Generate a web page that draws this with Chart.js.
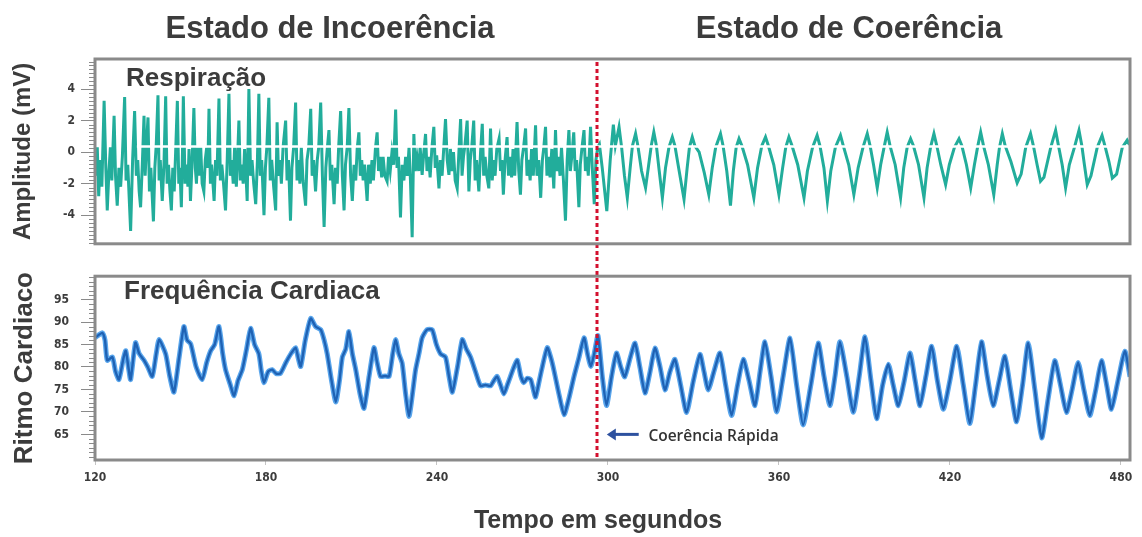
<!DOCTYPE html>
<html lang="pt">
<head>
<meta charset="utf-8">
<title>Respiração e Frequência Cardíaca</title>
<script src="https://cdn.jsdelivr.net/npm/chart.js@4.4.1/dist/chart.umd.min.js"></script>
<style>
  html, body { margin: 0; padding: 0; background: #ffffff; }
  #page { position: relative; width: 1142px; height: 537px; overflow: hidden; background: #ffffff; }
  canvas { position: absolute; left: 0; }
  .lbl { position: absolute; font-family: "Liberation Sans", Arial, sans-serif; font-weight: bold;
         color: #3c3c3c; line-height: 1; white-space: nowrap; }
  .center { transform: translate(-50%, -50%); }
  .left { transform: translate(0, -50%); }
</style>
</head>
<body>
<div id="page">
  <canvas id="respCanvas" width="1142" height="257" style="top:0;width:1142px;height:257px"></canvas>
  <canvas id="hrCanvas" width="1142" height="280" style="top:257px;width:1142px;height:280px"></canvas>

  <div class="lbl center" style="left:330px;top:27px;font-size:31px">Estado de Incoerência</div>
  <div class="lbl center" style="left:849px;top:27px;font-size:31px">Estado de Coerência</div>
  <div class="lbl left" style="left:126px;top:77px;font-size:26px">Respiração</div>
  <div class="lbl left" style="left:124px;top:290px;font-size:26px">Frequência Cardiaca</div>
  <div class="lbl center" style="left:598px;top:519px;font-size:25px">Tempo em segundos</div>
</div>

<script>
// ---- time axis (seconds) ----
const timeRange = [120, 483.2];
const timeTicks = [120, 180, 240, 300, 360, 420, 480];
const coherenceOnset = 296;          // start of the coherent breathing phase

// ---- respiration amplitude (mV) ----
const respRange = [-5.82, 5.91];
const respLabelTicks = [-4, -2, 0, 2, 4];
const respBaseline = { from: 134.7, to: 483.2, level: 0.35 };

// [time s, amplitude mV]
const respiration = [
  [120.3,-1.5],[120.8,0.3],[121.3,-2.8],[121.8,-0.5],[122.4,-2.2],[123.2,3.25],[123.8,-1.0],[124.3,-3.7],
  [124.9,-1.2],[125.4,0.3],[125.9,-1.8],[126.7,2.3],[127.2,-1.5],[127.8,-3.4],[128.4,-1.0],[129.0,-2.2],
  [129.6,-0.3],[130.4,3.5],[130.9,-1.8],[131.5,-0.8],[132.5,-5.0],[133.2,-0.5],[133.9,2.6],[134.5,-1.5],
  [135.0,-0.5],[135.5,-2.5],[136.0,-3.5],[136.6,-0.8],[137.2,2.3],[137.6,-1.5],[138.0,0.2],[138.6,2.2],
  [139.1,-2.5],[139.6,-1.0],[140.5,-4.4],[141.0,-1.0],[141.5,0.5],[142.1,3.6],[142.5,-1.8],[142.9,-0.5],
  [143.6,-3.1],[144.2,-0.8],[144.8,3.55],[145.3,-2.0],[145.8,-0.8],[146.3,-2.5],[146.8,-3.7],[147.3,-1.0],
  [147.8,-2.5],[148.3,0.0],[148.9,3.25],[149.4,-2.0],[149.8,-1.0],[150.3,-3.5],[150.7,0.0],[151.0,3.55],
  [151.6,-2.0],[152.1,-0.8],[152.6,-2.2],[153.0,0.2],[153.5,-3.1],[154.1,-0.5],[154.7,2.8],[155.2,-1.0],
  [155.6,-2.0],[156.1,0.3],[156.6,-1.5],[157.1,0.3],[157.6,-2.0],[158.2,-2.5],[158.7,-0.5],[159.2,0.3],
  [159.6,-1.0],[160.0,2.75],[160.5,-2.0],[160.9,-0.8],[161.4,-2.0],[161.8,-3.1],[162.3,-0.5],[162.8,-1.5],
  [163.5,3.4],[164.0,-1.8],[164.5,-0.8],[165.1,-2.0],[165.8,-3.7],[166.4,-0.5],[167.0,3.7],[167.5,-1.5],
  [168.0,-0.5],[168.5,-2.0],[169.0,0.3],[169.6,-2.2],[170.0,-0.5],[170.5,2.0],[171.0,-1.8],[171.5,-0.8],
  [172.0,-2.0],[172.5,0.2],[173.0,-1.5],[173.4,-3.1],[174.0,4.0],[174.6,-1.5],[175.1,-0.5],[175.7,-2.0],
  [176.4,-3.3],[177.0,-0.5],[177.5,3.7],[178.0,-1.5],[178.5,-0.5],[179.3,-4.0],[179.8,-1.0],[180.3,0.3],
  [181.0,3.45],[181.5,-1.8],[182.0,-0.5],[182.7,-2.2],[183.4,-3.7],[183.9,1.9],[184.4,-1.5],[184.9,-0.5],
  [185.4,-2.0],[186.0,0.3],[186.9,2.0],[187.4,-1.8],[187.9,-0.5],[188.6,-4.35],[189.1,-1.0],[189.7,0.3],
  [190.4,3.15],[190.9,-1.8],[191.4,-0.5],[191.9,-2.0],[192.4,0.3],[193.0,-1.8],[193.9,-3.4],[194.4,-0.5],
  [195.0,0.3],[195.7,2.75],[196.2,-1.5],[196.7,-0.5],[197.4,-2.5],[198.0,-0.5],[198.5,0.3],[199.2,3.15],
  [199.8,-1.5],[200.4,-4.75],[201.0,-1.0],[201.5,0.2],[202.1,1.4],[202.6,-1.8],[203.1,-0.8],[203.9,-3.3],
  [204.4,-1.0],[205.0,-2.0],[205.5,0.3],[206.2,2.6],[206.8,-1.5],[207.4,-3.7],[207.9,-0.8],[208.5,0.3],
  [209.1,2.8],[209.7,-1.5],[210.3,-3.1],[210.9,-0.8],[211.5,-1.8],[212.0,0.2],[212.6,1.25],[213.1,-1.5],
  [213.6,-0.5],[214.1,-1.8],[214.6,-0.8],[215.5,-3.1],[216.0,-0.8],[216.6,-2.0],[217.2,-0.5],[217.7,-1.8],
  [218.4,0.2],[219.0,1.25],[219.5,-1.2],[220.0,-0.3],[220.6,-1.6],[221.1,-0.3],[221.7,-1.5],[222.5,-1.85],
  [223.0,-0.3],[223.6,-1.2],[224.2,0.0],[224.8,-0.8],[225.5,2.7],[226.0,-1.0],[226.5,-0.3],[227.2,-4.15],
  [227.8,-0.8],[228.4,-1.8],[229.0,-0.3],[229.6,-1.5],[230.2,0.3],[230.7,-1.8],[231.3,-5.4],[231.9,1.15],
  [232.4,-1.2],[233.0,-0.3],[233.6,-1.2],[234.1,0.3],[234.8,-1.45],[235.4,0.0],[236.0,1.15],[236.5,-1.2],
  [237.1,-0.3],[237.6,-1.6],[238.2,0.2],[238.9,1.6],[239.4,-1.0],[239.9,-0.2],[240.7,-2.3],[241.2,-0.5],
  [241.8,-1.5],[242.4,0.3],[243.0,2.1],[243.6,-0.5],[244.2,-1.45],[244.7,0.2],[245.3,-1.2],[245.8,0.0],
  [246.4,-1.8],[247.1,-2.3],[247.7,0.0],[248.3,2.1],[248.8,-1.5],[249.3,-0.3],[249.8,0.4],[250.6,2.0],
  [251.2,-2.5],[251.7,-0.5],[252.2,0.3],[252.9,2.0],[253.4,-1.8],[253.9,-0.5],[254.7,-2.5],[255.3,0.0],
  [255.9,1.8],[256.4,-1.5],[256.9,-0.3],[257.5,-1.5],[258.2,-2.3],[258.8,1.5],[259.4,-1.8],[259.9,-0.5],
  [260.4,-1.5],[261.0,0.2],[261.8,0.85],[262.3,-1.2],[262.8,-0.5],[263.3,-2.7],[263.9,-0.5],[264.6,0.95],
  [265.1,-1.5],[265.6,-0.3],[266.2,-1.6],[266.7,0.2],[267.3,-1.5],[268.1,1.9],[268.7,-1.2],[269.3,-2.7],
  [269.8,-0.5],[270.4,0.3],[271.1,1.5],[271.6,-1.5],[272.1,-0.5],[272.7,-1.8],[273.2,0.2],[273.8,-1.5],
  [274.6,1.7],[275.1,-1.5],[275.7,-0.5],[276.4,-2.9],[277.0,-0.5],[277.5,0.3],[278.1,1.6],[278.6,-1.5],
  [279.1,-0.3],[279.7,-1.6],[280.3,0.2],[281.0,-2.3],[281.6,1.4],[282.1,-1.2],[282.6,-0.3],[283.2,-1.5],
  [283.7,0.3],[284.3,-1.5],[285.1,-4.35],[285.7,-0.5],[286.3,1.4],[286.8,-1.2],[287.3,-0.3],[288.0,1.25],
  [288.5,-1.2],[289.0,-0.5],[289.8,-3.5],[290.3,-0.8],[290.9,0.3],[291.6,1.4],[292.1,-1.2],[292.6,-0.3],
  [293.1,-1.5],[293.9,1.6],[294.5,-1.0],[295.2,-3.3],[295.8,-0.5],[296.4,0.3],
  [297.0,0.5],[298.0,-1.0],[299.6,-3.75],[300.8,-0.5],[301.9,1.75],[302.6,0.4],[303.9,1.6],[304.8,0.3],
  [305.8,-1.5],[306.8,-2.9],[307.8,-1.0],[308.6,0.4],[309.7,1.17],[310.5,0.4],[311.8,-1.2],[313.2,-2.27],
  [314.3,-0.8],[315.2,0.4],[316.1,1.27],[317.0,0.4],[318.0,-1.2],[319.1,-2.9],[320.2,-1.0],[321.4,0.3],
  [322.6,0.96],[323.5,0.4],[324.8,-1.0],[326.7,-3.0],[327.8,-1.0],[328.6,0.3],[329.6,0.96],[330.5,0.4],
  [332.0,0.0],[333.8,-1.3],[335.4,-2.7],[336.6,-1.0],[337.8,0.3],[339.5,1.17],[340.4,0.4],[341.7,-1.2],
  [343.0,-3.4],[344.0,-1.2],[345.0,0.3],[346.0,0.85],[347.0,0.4],[349.0,-0.8],[351.2,-2.9],[352.5,-1.0],
  [354.0,0.4],[355.3,0.96],[356.3,0.4],[358.2,-0.8],[360.0,-2.7],[361.3,-1.0],[362.4,0.3],[363.5,0.96],
  [364.6,0.4],[366.6,-0.8],[368.8,-2.9],[370.0,-1.2],[371.8,0.3],[373.4,1.06],[374.4,0.4],[375.8,-1.0],
  [377.0,-3.1],[378.2,-1.2],[379.8,0.3],[381.6,1.06],[382.6,0.4],[384.5,-0.8],[386.3,-2.7],[387.8,-1.0],
  [389.5,0.3],[391.0,1.17],[392.0,0.4],[393.2,-0.8],[394.5,-2.27],[395.7,-0.8],[396.9,0.3],[398.0,1.27],
  [399.0,0.4],[400.8,-0.8],[402.7,-2.9],[403.8,-1.0],[405.0,0.3],[406.2,0.85],[407.2,0.4],[409.0,-0.8],
  [410.9,-2.9],[412.0,-1.0],[413.2,0.3],[414.4,1.17],[415.4,0.4],[416.8,-0.8],[418.5,-2.06],[419.8,-0.8],
  [421.6,0.3],[423.2,0.85],[424.2,0.4],[425.8,-0.8],[427.3,-2.27],[428.6,-0.8],[429.7,0.3],[430.8,1.27],
  [431.8,0.4],[433.5,-0.8],[435.4,-2.7],[436.6,-0.8],[437.4,0.3],[438.4,1.17],[439.4,0.4],[441.4,-0.6],
  [443.6,-1.96],[445.0,-1.4],[446.6,0.3],[448.3,1.17],[449.3,0.4],[450.6,-0.8],[451.8,-1.85],[453.0,-1.6],
  [455.4,0.3],[457.1,1.38],[458.1,0.4],[459.4,-0.8],[460.6,-2.27],[461.9,-0.8],[463.7,0.3],[465.3,1.38],
  [466.3,0.4],[467.2,-0.8],[468.2,-2.06],[469.5,-1.5],[471.7,0.3],[473.4,1.06],[474.4,0.4],[475.8,-0.6],
  [477.0,-1.65],[478.5,-1.4],[480.5,0.3],[482.2,0.75],[483.2,0.4]
];

// ---- heart rate (bpm) ----
const hrRange = [59.3, 100.2];
const hrLabelTicks = [65, 70, 75, 80, 85, 90, 95];

// [time s, beats per minute]
const heartRate = [
  [120.0,86.5],[122.6,87.6],[123.5,86],[124.3,81.5],[126.1,82.2],[127.2,79],[128.4,77.2],[130.0,82],
  [130.8,83.6],[131.7,80],[132.5,77.2],[134.2,85.4],[135.5,83],[137.2,81.5],[138.5,80],[140.1,77.9],
  [141.5,83],[142.5,86.1],[144.8,82.9],[146.2,78],[147.7,74.4],[149.5,82],[151.2,89],[152.3,86],
  [153.6,85.1],[155.5,80],[157.6,77.2],[159.2,81],[160.6,83.6],[162.0,85],[163.5,89],[164.8,83],
  [165.8,79.4],[167.5,76],[168.8,73.6],[170.2,77],[171.7,79.4],[173.2,84],[174.6,88.6],[176.0,85],
  [177.5,82.9],[178.4,79],[179.3,76.5],[180.8,79],[182.2,79.4],[183.6,78.5],[185.1,78.6],[187.0,81],
  [188.8,83],[190.4,84.3],[191.3,82],[192.2,80.1],[193.8,86],[195.7,90.8],[197.4,89],[199.2,88.3],
  [200.4,86],[201.5,82.9],[203.0,77],[204.5,72.2],[205.8,77],[206.8,82.2],[208.0,84],[209.1,87.9],
  [210.3,83],[211.5,79.4],[213.0,74],[214.4,70.8],[216.2,78],[217.9,84.3],[219.0,81],[220.2,77.9],
  [221.8,78],[223.2,77.9],[224.5,83],[225.5,86.1],[226.6,83],[227.8,80.8],[229.0,74],[230.2,69],
  [231.4,74],[232.5,79.4],[233.7,83],[234.8,86.5],[236.5,88.3],[238.3,88.3],[239.8,85],[241.3,82.9],
  [243.0,82.2],[244.2,78],[245.4,74.4],[247.2,80],[248.9,86.1],[250.3,84],[251.8,82.2],[253.5,79],
  [255.3,75.8],[257.0,76],[258.8,75.8],[260.0,77],[261.1,77.9],[262.3,76],[263.5,74],[264.7,76],
  [265.8,77.9],[267.0,80],[268.2,81.5],[269.4,78],[270.5,76.5],[271.7,77.5],[272.9,77.2],[273.8,75],
  [274.6,73.3],[276.6,79],[278.7,84.3],[280.0,82],[281.0,79.4],[282.8,74],[284.6,69.4],[286.3,73],
  [288.1,77.9],[289.8,82],[291.6,86.5],[292.8,83],[294.0,80.1],[295.2,83],[296.5,87],[298.0,78],
  [299.5,71.4],[301.3,78],[303.0,83.1],[304.5,80],[305.9,77.8],[307.8,82],[309.5,85.3],[311.2,80],
  [313.0,74.2],[314.8,79],[316.5,84.2],[318.3,80],[320.0,74.9],[321.8,79],[323.5,81.7],[325.5,76],
  [327.6,69.9],[330.0,77],[332.3,82.8],[333.7,79],[335.2,74.9],[337.2,79],[339.3,83.1],[341.3,76],
  [343.4,69.2],[345.5,76],[347.5,81.7],[349.5,77],[351.6,71.4],[353.4,79],[355.1,85.6],[357.2,78],
  [359.2,70.0],[361.5,78],[363.9,86.4],[366.2,76],[368.5,67.1],[371.2,76],[373.8,85.3],[375.8,78],
  [377.9,71.4],[379.7,78],[381.4,85.6],[383.8,78],[386.1,69.9],[388.2,78],[390.2,86.7],[392.3,77],
  [394.3,68.5],[396.4,76],[398.4,80.6],[400.1,76],[401.9,71.4],[404.0,77],[406.0,83.1],[407.8,77],
  [409.5,71.4],[411.6,78],[413.6,84.6],[415.6,77],[417.7,70.6],[420.0,77],[422.4,84.6],[424.7,76],
  [427.0,67.4],[429.0,76],[431.1,85.6],[433.1,78],[435.2,71.4],[437.3,77],[439.3,82.4],[441.3,75],
  [443.4,67.8],[445.5,76],[447.5,85.3],[449.8,75],[452.2,64.2],[454.5,73],[456.8,81.4],[458.8,76],
  [460.9,69.9],[462.9,75],[465.0,81],[467.0,75],[469.1,69.2],[471.2,75],[473.2,81.4],[475.0,76],
  [476.7,70.6],[479.0,77],[481.4,83.5],[483.2,77.8]
];

// annotation beside the onset marker, in axis units
const onsetNote = { text: 'Coerência Rápida', arrowFrom: [310.8, 65.0], arrowTo: [299.6, 65.0], textAt: [314.2, 64.6] };

// ---- styling ----
const COLORS = {
  resp: '#22ad9b', hrHalo: '#5aa6ec', hrCore: '#1f62b4', frame: '#8a8a8a',
  tick: '#8a8a8a', label: '#3c3c3c', onset: '#d3102e', arrow: '#2d519f'
};
const tickFont = { family: '"DejaVu Sans Condensed", "Liberation Sans Narrow", sans-serif', size: 12, weight: 'bold' };
const titleFamily = '"Liberation Sans", Arial, sans-serif';

const toPoints = rows => rows.map(r => ({ x: r[0], y: r[1] }));

// plot frame around the chart area
const framePlugin = {
  id: 'frame',
  afterDraw(chart) {
    const a = chart.chartArea, ctx = chart.ctx;
    ctx.save();
    ctx.strokeStyle = COLORS.frame;
    ctx.lineWidth = 3;
    ctx.strokeRect(a.left, a.top, a.right - a.left, a.bottom - a.top);
    ctx.restore();
  }
};

// short unlabelled ticks between the labelled ones on the y axis
const minorTickPlugin = {
  id: 'minorTicks',
  afterDraw(chart, args, opts) {
    const s = chart.scales.y, ctx = chart.ctx;
    ctx.save();
    ctx.strokeStyle = COLORS.tick;
    ctx.lineWidth = 1;
    s.ticks.forEach(t => {
      if (opts.labelled.includes(t.value)) return;
      const y = Math.round(s.getPixelForValue(t.value)) + 0.5;
      ctx.beginPath();
      ctx.moveTo(s.right - 6, y);
      ctx.lineTo(s.right, y);
      ctx.stroke();
    });
    ctx.restore();
  }
};

// dotted vertical marker at the coherence onset
const onsetPlugin = {
  id: 'onset',
  afterDatasetsDraw(chart, args, opts) {
    const x = Math.round(chart.scales.x.getPixelForValue(coherenceOnset));
    const a = chart.chartArea, ctx = chart.ctx;
    const y0 = opts.extendUp ? 0 : a.top + 3;
    const y1 = opts.extendDown ? chart.height : a.bottom;
    ctx.save();
    ctx.strokeStyle = COLORS.onset;
    ctx.lineWidth = 3;
    ctx.setLineDash([4, 3]);
    ctx.beginPath();
    ctx.moveTo(x, y0);
    ctx.lineTo(x, y1);
    ctx.stroke();
    ctx.restore();
  }
};

// arrow and caption pointing at the onset marker
const notePlugin = {
  id: 'note',
  afterDatasetsDraw(chart) {
    const sx = chart.scales.x, sy = chart.scales.y, ctx = chart.ctx;
    const x0 = sx.getPixelForValue(onsetNote.arrowFrom[0]), y0 = sy.getPixelForValue(onsetNote.arrowFrom[1]);
    const x1 = sx.getPixelForValue(onsetNote.arrowTo[0]), y1 = sy.getPixelForValue(onsetNote.arrowTo[1]);
    ctx.save();
    ctx.strokeStyle = COLORS.arrow;
    ctx.fillStyle = COLORS.arrow;
    ctx.lineWidth = 3;
    ctx.beginPath();
    ctx.moveTo(x0, y0);
    ctx.lineTo(x1 + 6, y1);
    ctx.stroke();
    ctx.beginPath();
    ctx.moveTo(x1, y1);
    ctx.lineTo(x1 + 9, y1 - 6);
    ctx.lineTo(x1 + 9, y1 + 6);
    ctx.closePath();
    ctx.fill();
    ctx.fillStyle = '#333333';
    ctx.font = '600 15.5px "Open Sans", "DejaVu Sans Condensed", sans-serif';
    ctx.textBaseline = 'middle';
    ctx.fillText(onsetNote.text, sx.getPixelForValue(onsetNote.textAt[0]), sy.getPixelForValue(onsetNote.textAt[1]));
    ctx.restore();
  }
};

function yAxis(range, step, labelled, title, titleSize, labelPad) {
  return {
    type: 'linear',
    min: range[0],
    max: range[1],
    afterFit(scale) { scale.width = 95; },
    afterBuildTicks(scale) {
      const ticks = [];
      const first = Math.ceil(range[0] / step) * step;
      for (let v = first; v <= range[1] + 1e-9; v += step) ticks.push({ value: Math.round(v * 100) / 100 });
      scale.ticks = ticks;
    },
    ticks: {
      autoSkip: false,
      padding: labelPad,
      font: tickFont,
      color: COLORS.label,
      callback: v => (labelled.includes(v) ? String(v) : '')
    },
    grid: {
      drawOnChartArea: false,
      drawTicks: true,
      tickLength: 14,
      tickColor: ctx => (labelled.includes(ctx.tick.value) ? COLORS.tick : 'rgba(0,0,0,0)')
    },
    border: { display: false },
    title: {
      display: true,
      text: title,
      color: '#3c3c3c',
      font: { family: titleFamily, size: titleSize, weight: 'bold' },
      padding: { top: 9 }
    }
  };
}

Chart.defaults.font.family = titleFamily;

// respiration panel
new Chart(document.getElementById('respCanvas'), {
  type: 'line',
  data: {
    datasets: [
      {
        label: 'linha de base',
        data: [{ x: respBaseline.from, y: respBaseline.level }, { x: respBaseline.to, y: respBaseline.level }],
        borderColor: '#ffffff', borderWidth: 2.5, pointRadius: 0, order: 0
      },
      {
        label: 'Respiração',
        data: toPoints(respiration),
        borderColor: COLORS.resp, borderWidth: 3, pointRadius: 0, tension: 0, order: 1
      }
    ]
  },
  options: {
    responsive: false,
    animation: false,
    events: [],
    layout: { padding: { top: 59, right: 12, bottom: 12, left: 0 } },
    scales: {
      x: { type: 'linear', min: timeRange[0], max: timeRange[1], display: false },
      y: yAxis(respRange, 0.25, respLabelTicks, 'Amplitude (mV)', 24, 6)
    },
    plugins: {
      legend: { display: false },
      tooltip: { enabled: false },
      minorTicks: { labelled: respLabelTicks },
      onset: { extendUp: false, extendDown: true }
    }
  },
  plugins: [framePlugin, minorTickPlugin, onsetPlugin]
});

// heart-rate panel
new Chart(document.getElementById('hrCanvas'), {
  type: 'line',
  data: {
    datasets: [
      {
        label: 'Frequência Cardiaca',
        data: toPoints(heartRate),
        borderColor: COLORS.hrCore, borderWidth: 2.4, pointRadius: 0, tension: 0.2, order: 0
      },
      {
        label: 'Frequência Cardiaca (contorno)',
        data: toPoints(heartRate),
        borderColor: COLORS.hrHalo, borderWidth: 5, pointRadius: 0, tension: 0.2, order: 1
      }
    ]
  },
  options: {
    responsive: false,
    animation: false,
    events: [],
    layout: { padding: { top: 12, right: 12, bottom: 0, left: 0 } },
    scales: {
      x: {
        type: 'linear',
        min: timeRange[0],
        max: timeRange[1],
        afterFit(scale) { scale.height = 77; },
        afterBuildTicks(scale) { scale.ticks = timeTicks.map(v => ({ value: v })); },
        ticks: { autoSkip: false, maxRotation: 0, padding: 6, font: tickFont, color: COLORS.label },
        grid: { drawOnChartArea: false, drawTicks: true, tickLength: 5, tickColor: '#c4c4c4' },
        border: { display: false }
      },
      y: yAxis(hrRange, 1, hrLabelTicks, 'Ritmo Cardiaco', 26, 12)
    },
    plugins: {
      legend: { display: false },
      tooltip: { enabled: false },
      minorTicks: { labelled: hrLabelTicks },
      onset: { extendUp: true, extendDown: false }
    }
  },
  plugins: [framePlugin, minorTickPlugin, onsetPlugin, notePlugin]
});
</script>
</body>
</html>
